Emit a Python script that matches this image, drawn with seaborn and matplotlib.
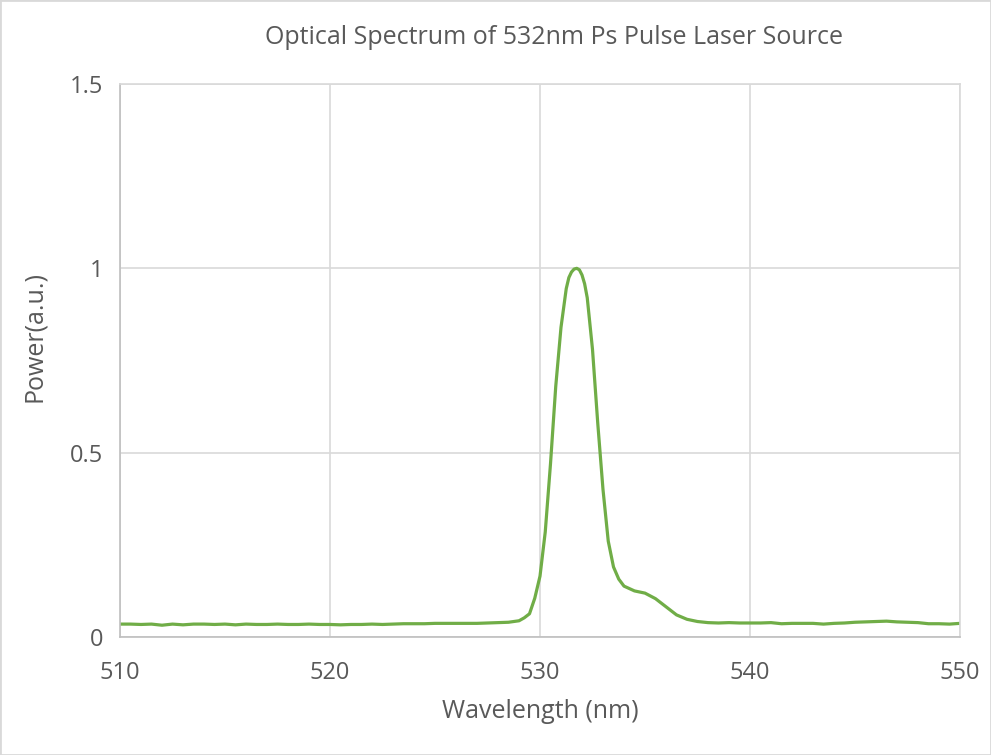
import pandas as pd
import matplotlib.pyplot as plt
import seaborn as sns

wavelength = [510, 510.5, 511, 511.5, 512, 512.5, 513, 513.5, 514, 514.5,
              515, 515.5, 516, 516.5, 517, 517.5, 518, 518.5, 519, 519.5,
              520, 520.5, 521, 521.5, 522, 522.5, 523, 523.5, 524, 524.5,
              525, 525.5, 526, 526.5, 527, 527.5, 528, 528.5, 529, 529.25,
              529.5, 529.75, 530, 530.25, 530.5, 530.75, 531, 531.25, 531.375, 531.5,
              531.625, 531.75, 531.875, 532, 532.125, 532.25, 532.5, 532.75, 533, 533.25,
              533.5, 533.75, 534, 534.5, 535, 535.5, 536, 536.5, 537, 537.5,
              538, 538.5, 539, 539.5, 540, 540.5, 541, 541.5, 542, 542.5,
              543, 543.5, 544, 544.5, 545, 545.5, 546, 546.5, 547, 547.5,
              548, 548.5, 549, 549.5, 550]

power = [0.035, 0.035, 0.034, 0.035, 0.032, 0.035, 0.033, 0.035, 0.035, 0.034,
         0.035, 0.033, 0.035, 0.034, 0.034, 0.035, 0.034, 0.034, 0.035, 0.034,
         0.034, 0.033, 0.034, 0.034, 0.035, 0.034, 0.035, 0.036, 0.036, 0.036,
         0.037, 0.037, 0.037, 0.037, 0.037, 0.038, 0.039, 0.040, 0.044, 0.052,
         0.063, 0.105, 0.165, 0.285, 0.47, 0.68, 0.84, 0.945, 0.975, 0.99,
         0.998, 1.0, 0.996, 0.982, 0.958, 0.92, 0.78, 0.58, 0.40, 0.26,
         0.19, 0.157, 0.138, 0.125, 0.119, 0.104, 0.082, 0.06, 0.048, 0.042,
         0.039, 0.038, 0.039, 0.038, 0.038, 0.038, 0.039, 0.036, 0.037, 0.037,
         0.037, 0.035, 0.037, 0.038, 0.040, 0.041, 0.042, 0.043, 0.041, 0.040,
         0.039, 0.036, 0.036, 0.035, 0.037]

yticks = [0, 0.5, 1, 1.5]
ytick_labels = ["0", "0.5", "1", "1.5"]
xticks = [510, 520, 530, 540, 550]

df = pd.DataFrame({"Wavelength": wavelength, "Power": power})

sns.set_style("white")
plt.rcParams["font.family"] = ["Open Sans", "DejaVu Sans"]
text_color = "#595959"

fig = plt.figure(figsize=(9.91, 7.55), dpi=100)
ax = fig.add_axes([120 / 991, 118 / 755, 840 / 991, 553 / 755])

sns.lineplot(data=df, x="Wavelength", y="Power", color="#70AD47", linewidth=2.3, ax=ax)

ax.set_xlim(510, 550)
ax.set_ylim(0, 1.5)
ax.set_xticks(xticks)
ax.set_xticklabels([str(t) for t in xticks])
ax.set_yticks(yticks)
ax.set_yticklabels(ytick_labels)
ax.tick_params(axis="both", length=0, labelsize=17, colors=text_color)
ax.tick_params(axis="x", pad=17)
ax.tick_params(axis="y", pad=12)
ax.grid(True, color="#D9D9D9", linewidth=1.2)
ax.set_axisbelow(True)
for side, sp in ax.spines.items():
    sp.set_color("#D9D9D9")
    sp.set_linewidth(1.2)
ax.spines["bottom"].set_color("#BFBFBF")
ax.spines["left"].set_color("#BFBFBF")
ax.set_xlabel("")
ax.set_ylabel("")

fig.text(554 / 991, 1 - 37 / 755, "Optical Spectrum of 532nm Ps Pulse Laser Source",
         ha="center", va="center", fontsize=18, color=text_color)
fig.text(540 / 991, 1 - 712 / 755, "Wavelength (nm)",
         ha="center", va="center", fontsize=18, color=text_color)
fig.text(34 / 991, 1 - 337 / 755, "Power(a.u.)", rotation=90,
         ha="center", va="center", fontsize=18, color=text_color)

fig.patches.append(plt.Rectangle((0, 0), 1, 1, transform=fig.transFigure,
                                 fill=False, edgecolor="#D9D9D9", linewidth=2))

plt.savefig("out.png", dpi=100)
plt.close()
